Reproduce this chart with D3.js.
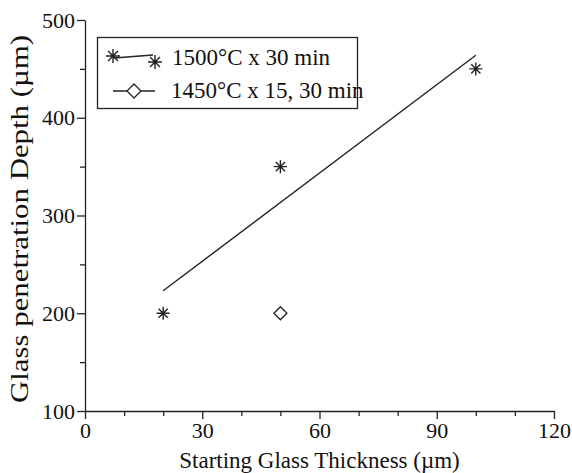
<!DOCTYPE html>
<html>
<head>
<meta charset="utf-8">
<script src="https://cdn.jsdelivr.net/npm/d3@7"></script>
<style>
  body { margin: 0; background: #fff; }
  svg text { font-family: "Liberation Serif", "Times New Roman", serif; fill: #111; }
</style>
</head>
<body>
<div id="chart"></div>
<script>
// data
const thickness1500 = [20, 50, 100]
const depth1500 = [200, 350, 450]
const thickness1450 = [50]
const depth1450 = [200]
const fitThickness = [20, 100]
const fitDepth = [223, 464]

const xTicks = [0, 30, 60, 90, 120]
const yTicks = [100, 200, 300, 400, 500]
const xMinor = [10, 20, 40, 50, 70, 80, 100, 110]
const yMinor = [150, 250, 350, 450]

const legendLabels = ['1500°C x 30 min', '1450°C x 15, 30 min']

const W = 572
const H = 473
const margin = { left: 85, right: 18, top: 20, bottom: 62 }
const serif = '"Liberation Serif", "Times New Roman", serif'

const svg = d3.select('#chart')
  .append('svg')
  .attr('width', W)
  .attr('height', H)

const x = d3.scaleLinear().domain([0, 120]).range([margin.left, W - margin.right])
const y = d3.scaleLinear().domain([100, 500]).range([H - margin.bottom, margin.top])

const ink = '#222'

// axes
const xAxis = svg.append('g')
  .attr('transform', `translate(0, ${y(100)})`)
  .call(d3.axisBottom(x).tickValues(xTicks).tickSize(8).tickSizeOuter(0).tickPadding(3))
const xAxisMinor = svg.append('g')
  .attr('transform', `translate(0, ${y(100)})`)
  .call(d3.axisBottom(x).tickValues(xMinor).tickSize(5).tickFormat(''))

const yAxis = svg.append('g')
  .attr('transform', `translate(${x(0)}, 0)`)
  .call(d3.axisLeft(y).tickValues(yTicks).tickSize(8).tickSizeOuter(0).tickPadding(2))
const yAxisMinor = svg.append('g')
  .attr('transform', `translate(${x(0)}, 0)`)
  .call(d3.axisLeft(y).tickValues(yMinor).tickSize(5).tickFormat(''))

;[xAxis, xAxisMinor, yAxis, yAxisMinor].forEach(a => {
  a.attr('font-family', serif).attr('font-size', 22)
  a.selectAll('path, line').attr('stroke', ink).attr('stroke-width', 1.3)
  a.selectAll('text').attr('fill', '#111').style('font-family', serif)
})
xAxisMinor.select('.domain').remove()
yAxisMinor.select('.domain').remove()

// axis labels
svg.append('text')
  .attr('x', (x(0) + x(120)) / 2)
  .attr('y', 468)
  .attr('text-anchor', 'middle')
  .attr('font-size', '23px')
  .text('Starting Glass Thickness (µm)')

// the y title is drawn longer in the original, so stretch it a bit
svg.append('text')
  .attr('transform', 'translate(28, 219) rotate(-90)')
  .attr('x', -184)
  .attr('font-size', '26px')
  .attr('textLength', 368)
  .attr('lengthAdjust', 'spacingAndGlyphs')
  .text('Glass penetration Depth (µm)')

// markers
const star = r => {
  const d = r * Math.SQRT1_2
  return `M${-r},0L${r},0M0,${-r}L0,${r}M${-d},${-d}L${d},${d}M${-d},${d}L${d},${-d}`
}
const diamond = r => `M0,${-r}L${r},0L0,${r}L${-r},0Z`

// fit line
svg.append('path')
  .datum(fitThickness.map((t, i) => [t, fitDepth[i]]))
  .attr('fill', 'none')
  .attr('stroke', ink)
  .attr('stroke-width', 1.4)
  .attr('d', d3.line().x(d => x(d[0])).y(d => y(d[1])))

svg.selectAll('.star')
  .data(thickness1500.map((t, i) => [t, depth1500[i]]))
  .enter()
  .append('path')
    .attr('class', 'star')
    .attr('transform', d => `translate(${x(d[0])}, ${y(d[1])})`)
    .attr('d', star(6.5))
    .attr('fill', 'none')
    .attr('stroke', ink)
    .attr('stroke-width', 1.4)

svg.selectAll('.diamond')
  .data(thickness1450.map((t, i) => [t, depth1450[i]]))
  .enter()
  .append('path')
    .attr('class', 'diamond')
    .attr('transform', d => `translate(${x(d[0])}, ${y(d[1])})`)
    .attr('d', diamond(6.5))
    .attr('fill', 'none')
    .attr('stroke', ink)
    .attr('stroke-width', 1.3)

// legend
const legend = svg.append('g')
legend.append('rect')
  .attr('x', 97.5)
  .attr('y', 37.5)
  .attr('width', 260)
  .attr('height', 71)
  .attr('fill', 'none')
  .attr('stroke', ink)
  .attr('stroke-width', 1.3)

legend.append('line')
  .attr('x1', 114).attr('y1', 58).attr('x2', 153).attr('y2', 55)
  .attr('stroke', ink).attr('stroke-width', 1.3)
legend.append('path')
  .attr('transform', 'translate(113, 56)')
  .attr('d', star(7)).attr('fill', 'none').attr('stroke', ink).attr('stroke-width', 1.4)
legend.append('path')
  .attr('transform', 'translate(155, 62)')
  .attr('d', star(7)).attr('fill', 'none').attr('stroke', ink).attr('stroke-width', 1.4)

legend.append('line')
  .attr('x1', 113).attr('y1', 91).attr('x2', 155).attr('y2', 91)
  .attr('stroke', ink).attr('stroke-width', 1.3)
legend.append('path')
  .attr('transform', 'translate(134, 91)')
  .attr('d', diamond(7)).attr('fill', '#fff').attr('stroke', ink).attr('stroke-width', 1.3)

legend.selectAll('.lab')
  .data(legendLabels)
  .enter()
  .append('text')
    .attr('class', 'lab')
    .attr('x', (d, i) => i === 0 ? 172 : 171)
    .attr('y', (d, i) => i === 0 ? 65 : 98)
    .attr('font-size', '23px')
    .text(d => d)
</script>
</body>
</html>
